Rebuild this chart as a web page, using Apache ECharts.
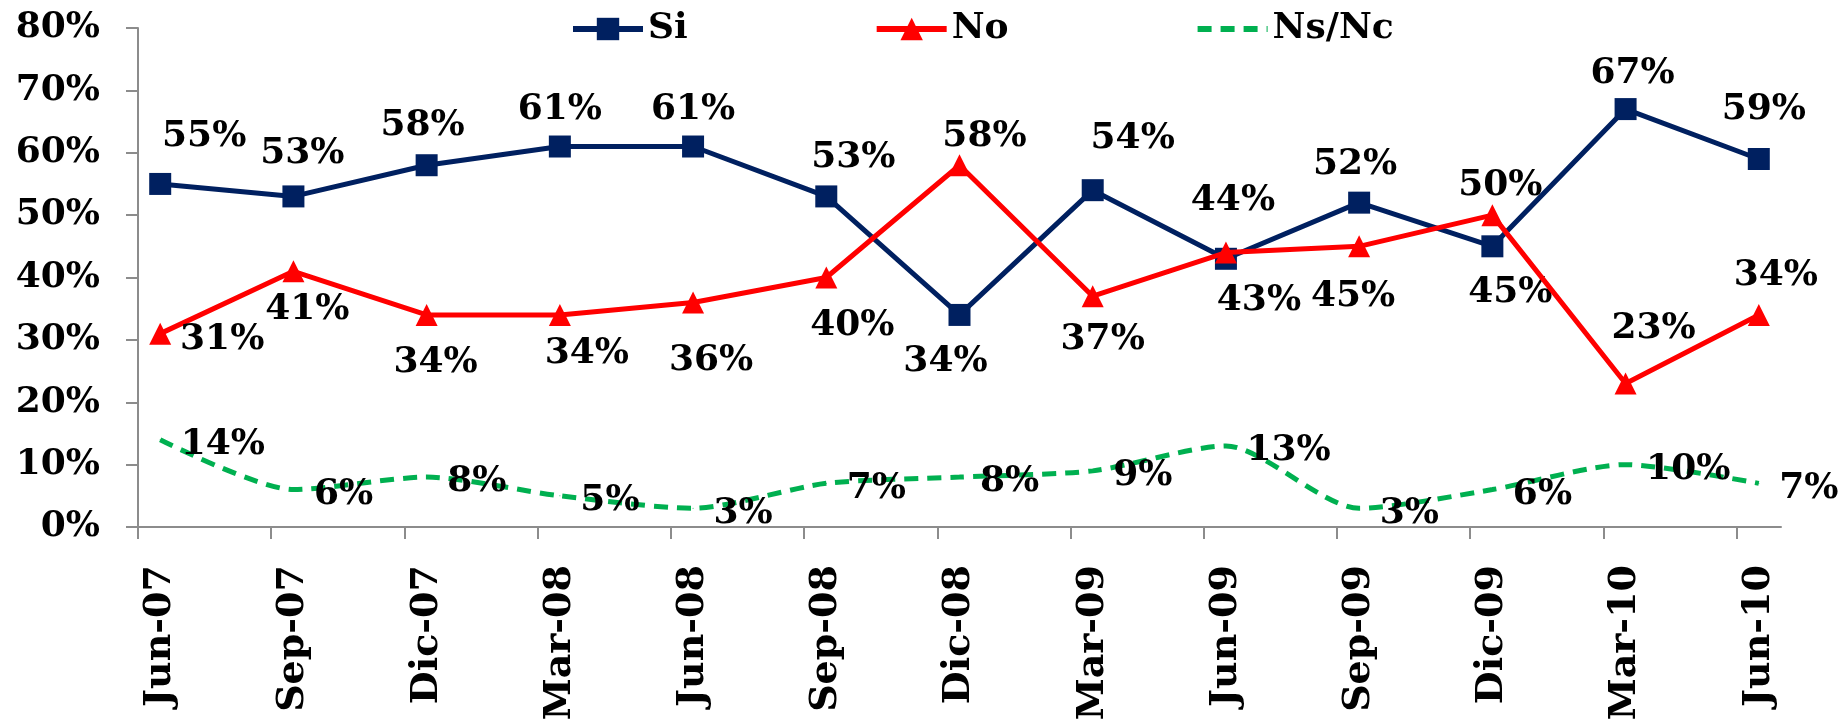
<!DOCTYPE html>
<html>
<head>
<meta charset="utf-8">
<script src="https://cdn.jsdelivr.net/npm/echarts@6/dist/echarts.min.js"></script>
<style>
  html, body { margin: 0; padding: 0; background: #fff; }
  #chart { width: 1839px; height: 719px; }
</style>
</head>
<body>
<div id="chart"></div>
<script>
// trimestres de la encuesta
var categories = ['Jun-07','Sep-07','Dic-07','Mar-08','Jun-08','Sep-08','Dic-08','Mar-09','Jun-09','Sep-09','Dic-09','Mar-10','Jun-10']
var si   = [55, 53, 58, 61, 61, 53, 34, 54, 43, 52, 45, 67, 59]
var no   = [31, 41, 34, 34, 36, 40, 58, 37, 44, 45, 50, 23, 34]
var nsnc = [14,  6,  8,  5,  3,  7,  8,  9, 13,  3,  6, 10,  7]

// eje x en meses: cada trimestre son 3 meses, punto a mitad de mes
var STEP = 3, HALF = 0.5
function toPoints(arr){
  return arr.map(function(v, i){ return [i * STEP + HALF, v] })
}

// desplazamiento de etiquetas (px) como en el original
var siOff = [[44,-47],[9,-43],[-4,-40],[0,-37],[0,-37],[27,-39],[-14,47],[40,-52],[33,42],[-4,-38],[18,46],[7,-35],[5,-49]]
var noOff = [[62,6],[14,38],[9,48],[27,39],[18,58],[26,48],[25,-29],[10,43],[7,-52],[-6,50],[8,-29],[28,-55],[17,-39]]

var FONT = 'DejaVu Serif'
var FS = 36

function withLabels(arr, offs){
  return toPoints(arr).map(function(p, i){
    return { value: p, label: { offset: offs[i] } }
  })
}
function pct(p){ return p.value[1] + '%' }

var chart = echarts.init(document.getElementById('chart'))
chart.setOption({
  animation: false,
  textStyle: { fontFamily: FONT },
  legend: {
    left: 565, top: 6,
    itemWidth: 70, itemHeight: 28, itemGap: 186,
    lineStyle: { width: 6 },
    textStyle: { fontFamily: FONT, fontSize: FS, fontWeight: 'bold', color: '#000' },
    data: ['Si', 'No', { name: 'Ns/Nc', itemStyle: { opacity: 0 } }]
  },
  grid: { left: 138, right: 58, top: 28, bottom: 192, containLabel: false, outerBoundsMode: 'none' },
  xAxis: {
    type: 'value',
    min: 0,
    max: categories.length * STEP - 2,
    axisLine: { show: true, lineStyle: { color: '#8c8c8c', width: 2 } },
    axisTick: {
      show: true, length: 12, lineStyle: { color: '#8c8c8c', width: 2 },
      customValues: categories.map(function(c, i){ return i * STEP })
    },
    axisLabel: {
      rotate: 90, margin: 38,
      fontFamily: FONT, fontSize: 38, fontWeight: 'bold', color: '#000',
      customValues: categories.map(function(c, i){ return i * STEP + HALF }),
      formatter: function(v){ return categories[Math.floor(v / STEP)] || '' }
    },
    splitLine: { show: false }
  },
  yAxis: {
    type: 'value',
    min: 0, max: 80, interval: 10,
    axisLine: { show: true, lineStyle: { color: '#8c8c8c', width: 2 } },
    axisTick: { show: true, length: 12, lineStyle: { color: '#8c8c8c', width: 2 } },
    axisLabel: {
      margin: 38,
      fontFamily: FONT, fontSize: FS, fontWeight: 'bold', color: '#000',
      formatter: '{value}%'
    },
    splitLine: { show: false }
  },
  series: [
    {
      name: 'Si', type: 'line',
      data: withLabels(si, siOff),
      symbol: 'rect', symbolSize: 22,
      itemStyle: { color: '#002060' },
      lineStyle: { color: '#002060', width: 5 },
      label: {
        show: true, position: 'inside',
        fontFamily: FONT, fontSize: FS, fontWeight: 'bold', color: '#000',
        formatter: pct
      },
      z: 3
    },
    {
      name: 'No', type: 'line',
      data: withLabels(no, noOff),
      symbol: 'triangle', symbolSize: 22,
      itemStyle: { color: '#FF0000' },
      lineStyle: { color: '#FF0000', width: 5 },
      label: {
        show: true, position: 'inside',
        fontFamily: FONT, fontSize: FS, fontWeight: 'bold', color: '#000',
        formatter: pct
      },
      z: 4
    },
    {
      name: 'Ns/Nc', type: 'line',
      data: toPoints(nsnc),
      smooth: 0.25,
      symbol: 'circle', symbolSize: 1,
      itemStyle: { color: '#00B050' },
      lineStyle: { color: '#00B050', width: 5, type: [14, 9] },
      label: {
        show: true, position: 'right', distance: 20, offset: [0, 5],
        fontFamily: FONT, fontSize: FS, fontWeight: 'bold', color: '#000',
        formatter: pct
      },
      z: 2
    }
  ]
})
</script>
</body>
</html>
